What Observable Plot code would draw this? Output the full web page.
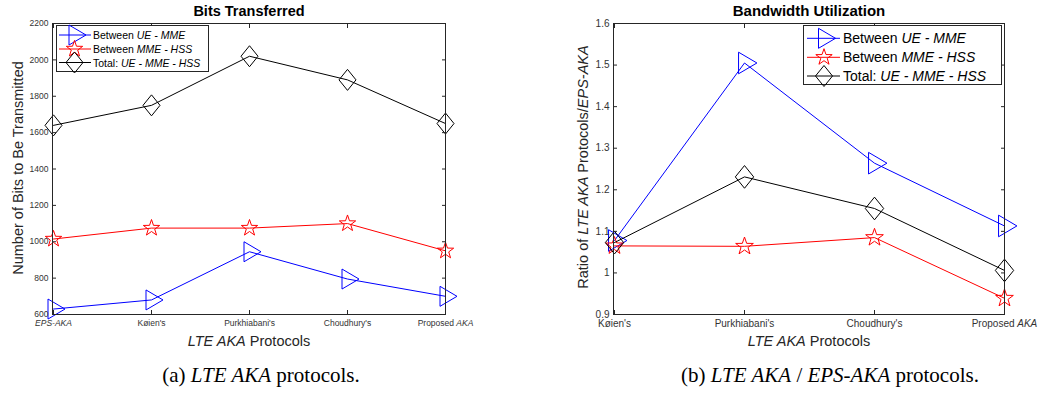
<!DOCTYPE html>
<html><head><meta charset="utf-8">
<script src="https://cdn.jsdelivr.net/npm/d3@7"></script>
<script src="https://cdn.jsdelivr.net/npm/@observablehq/plot@0.6"></script>
<style>
body{margin:0;background:#fff;}
#wrap{position:relative;width:1041px;height:397px;overflow:hidden;font-family:"Liberation Sans",Arial,sans-serif;background:#fff;}
.abs{position:absolute;white-space:nowrap;transform:translate(-50%,-50%);line-height:1;}
.chart{position:absolute;top:0;}
.legend{position:absolute;border:1px solid #262626;background:#fff;box-sizing:border-box;}
.cap{position:absolute;white-space:nowrap;transform:translate(-50%,-50%);font-family:"Liberation Serif","Times New Roman",serif;font-size:21px;color:#000;line-height:1;}
</style>
</head><body>
<div id="wrap"></div>
<script>
// ---------- data ----------
const catsA = ["EPS-AKA", "Køien's", "Purkhiabani's", "Choudhury's", "Proposed AKA"];
const ueMmeA = [630, 680, 945, 795, 700];
const mmeHssA = [1015, 1075, 1075, 1100, 950];
const totalA = [1640, 1750, 2020, 1890, 1650];
const yTicksA = [600, 800, 1000, 1200, 1400, 1600, 1800, 2000, 2200];

const catsB = ["Køien's", "Purkhiabani's", "Choudhury's", "Proposed AKA"];
const ueMmeB = [1.078, 1.505, 1.264, 1.113];
const mmeHssB = [1.065, 1.064, 1.085, 0.939];
const totalB = [1.073, 1.231, 1.155, 1.006];
const yTicksB = [0.9, 1, 1.1, 1.2, 1.3, 1.4, 1.5, 1.6];

const seriesLabels = [
  'Between <i>UE - MME</i>',
  'Between <i>MME - HSS</i>',
  'Total: <i>UE - MME - HSS</i>'
];
const seriesColors = ["#0000ff", "#ff0000", "#000000"];

// ---------- marker shapes ----------
function triSym(s){return {draw(ctx){ctx.moveTo(-5.5*s,-10*s);ctx.lineTo(11.5*s,0);ctx.lineTo(-5.5*s,10*s);ctx.closePath();}};}
function diaSym(s){return {draw(ctx){ctx.moveTo(0,-10.5*s);ctx.lineTo(8.5*s,0);ctx.lineTo(0,10.5*s);ctx.lineTo(-8.5*s,0);ctx.closePath();}};}
function starSym(s){return {draw(ctx){for(let i=0;i<10;i++){const a=-Math.PI/2+i*Math.PI/5;const r=(i%2?3.4:8.6)*s;const x=r*Math.cos(a),y=r*Math.sin(a);if(i)ctx.lineTo(x,y);else ctx.moveTo(x,y);}ctx.closePath();}};}
const symMakers = [triSym, starSym, diaSym];

const wrap = document.getElementById("wrap");

function makeChart({cats, vals, yDomain, yTicks, fmt, left, width, ml, mr, fs, ms}) {
  const marks = [];
  vals.forEach((arr, k) => {
    const rows = cats.map((c, i) => ({cat: c, v: arr[i]}));
    marks.push(Plot.line(rows, {x: "cat", y: "v", stroke: seriesColors[k], strokeWidth: 1}));
    marks.push(Plot.dot(rows, {x: "cat", y: "v", symbol: symMakers[k](ms), r: 5, stroke: seriesColors[k], fill: "none", strokeWidth: 1}));
  });
  marks.push(Plot.frame({stroke: "#262626", strokeWidth: 1}));
  marks.push(Plot.axisX({anchor: "bottom", tickSize: 0, tickPadding: 5.5, label: null, fontSize: fs}));
  marks.push(Plot.axisX({anchor: "bottom", tickSize: 4, dy: -4, tickFormat: () => "", label: null, stroke: "#262626"}));
  marks.push(Plot.axisX({anchor: "top", tickSize: 4, dy: 4, tickFormat: () => "", label: null, stroke: "#262626"}));
  marks.push(Plot.axisY({anchor: "left", ticks: yTicks, tickSize: 0, tickPadding: 4, tickFormat: fmt, label: null, fontSize: fs}));
  marks.push(Plot.axisY({anchor: "left", ticks: yTicks, tickSize: 4, dx: 4, tickFormat: () => "", label: null, stroke: "#262626"}));
  marks.push(Plot.axisY({anchor: "right", ticks: yTicks, tickSize: 4, dx: -4, tickFormat: () => "", label: null, stroke: "#262626"}));
  const svg = Plot.plot({
    width, height: 340,
    marginTop: 23, marginBottom: 26, marginLeft: ml, marginRight: mr,
    x: {type: "point", domain: cats, padding: 0},
    y: {domain: yDomain},
    style: {fontFamily: '"Liberation Sans", Arial, sans-serif', fontSize: fs + "px", color: "#333", background: "transparent", overflow: "visible"},
    marks
  });
  svg.classList.add("chart");
  svg.style.left = left + "px";
  // italic parts in category labels
  svg.querySelectorAll('g[aria-label="x-axis tick label"] text').forEach(t => {
    const s = t.textContent;
    if (s === "EPS-AKA") t.setAttribute("font-style", "italic");
    else if (s === "Proposed AKA") t.innerHTML = 'Proposed <tspan font-style="italic">AKA</tspan>';
  });
  wrap.appendChild(svg);
}

makeChart({cats: catsA, vals: [ueMmeA, mmeHssA, totalA], yDomain: [600, 2200], yTicks: yTicksA,
  fmt: d => String(d), left: 0, width: 520, ml: 52, mr: 75, fs: 8.5, ms: 1});
makeChart({cats: catsB, vals: [ueMmeB, mmeHssB, totalB], yDomain: [0.9, 1.6], yTicks: yTicksB,
  fmt: d => String(+d.toFixed(1)), left: 520, width: 521, ml: 93, mr: 37, fs: 10, ms: 1.08});

// ---------- text ----------
function addText(html, x, y, css) {
  const d = document.createElement("div");
  d.className = "abs";
  d.innerHTML = html;
  d.style.left = x + "px"; d.style.top = y + "px";
  Object.assign(d.style, css || {});
  wrap.appendChild(d);
  return d;
}
addText("Bits Transferred", 249, 11, {fontWeight: "bold", fontSize: "14.5px", color: "#000"});
addText("Bandwidth Utilization", 809, 10, {fontWeight: "bold", fontSize: "15px", color: "#000"});
addText("<i>LTE AKA</i> Protocols", 249, 341, {fontSize: "14.5px", color: "#262626"});
addText("<i>LTE AKA</i> Protocols", 809, 341, {fontSize: "14.5px", color: "#262626"});
addText("Number of Bits to Be Transmitted", 18, 168, {fontSize: "14.5px", color: "#262626", transform: "translate(-50%,-50%) rotate(-90deg)"});
addText("Ratio of <i>LTE AKA</i> Protocols/<i>EPS-AKA</i>", 583, 167, {fontSize: "14.5px", color: "#262626", transform: "translate(-50%,-50%) rotate(-90deg)"});

const capA = document.createElement("div"); capA.className = "cap";
capA.innerHTML = "(a) <i>LTE AKA</i> protocols."; capA.style.left = "261px"; capA.style.top = "375px";
wrap.appendChild(capA);
const capB = document.createElement("div"); capB.className = "cap";
capB.innerHTML = "(b) <i>LTE AKA</i> / <i>EPS-AKA</i> protocols."; capB.style.left = "830px"; capB.style.top = "375px";
wrap.appendChild(capB);

// ---------- legends ----------
function symPath(maker, s) { const p = d3.path(); maker(s).draw(p); return p.toString(); }
function addLegend({x, y, w, h, rowY, lineX0, lineX1, markX, textX, fs, ms}) {
  const box = document.createElement("div");
  box.className = "legend";
  Object.assign(box.style, {left: x + "px", top: y + "px", width: w + "px", height: h + "px"});
  wrap.appendChild(box);
  rowY.forEach((ry, k) => {
    const svgNS = "http://www.w3.org/2000/svg";
    const svg = document.createElementNS(svgNS, "svg");
    svg.setAttribute("width", 1); svg.setAttribute("height", 1);
    svg.style.position = "absolute"; svg.style.left = "0px"; svg.style.top = "0px"; svg.style.overflow = "visible";
    const line = document.createElementNS(svgNS, "line");
    line.setAttribute("x1", lineX0); line.setAttribute("x2", lineX1);
    line.setAttribute("y1", ry); line.setAttribute("y2", ry);
    line.setAttribute("stroke", seriesColors[k]); line.setAttribute("stroke-width", 1);
    const path = document.createElementNS(svgNS, "path");
    path.setAttribute("d", symPath(symMakers[k], ms));
    path.setAttribute("transform", `translate(${markX},${ry})`);
    path.setAttribute("fill", "none"); path.setAttribute("stroke", seriesColors[k]); path.setAttribute("stroke-width", 1);
    svg.appendChild(line); svg.appendChild(path);
    wrap.appendChild(svg);
    const sp = document.createElement("div");
    sp.innerHTML = seriesLabels[k];
    Object.assign(sp.style, {position: "absolute", left: textX + "px", top: ry + "px", transform: "translateY(-50%)", fontSize: fs + "px", color: "#000", whiteSpace: "nowrap", lineHeight: "1"});
    wrap.appendChild(sp);
  });
}
addLegend({x: 56, y: 25, w: 153, h: 47, rowY: [35, 49, 62.5], lineX0: 59, lineX1: 91, markX: 74.5, textX: 93, fs: 10.5, ms: 1});
addLegend({x: 803, y: 25, w: 199, h: 60, rowY: [38.3, 57.3, 76], lineX0: 807, lineX1: 840, markX: 824, textX: 843, fs: 14, ms: 1});
</script>
</body></html>
